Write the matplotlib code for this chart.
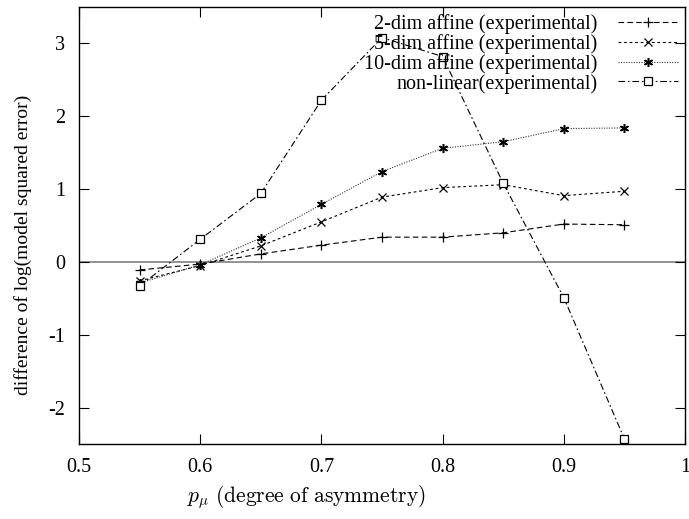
import numpy as np
import matplotlib
matplotlib.use("Agg")
import matplotlib.pyplot as plt

# asymmetry levels
p_mu = [0.55, 0.60, 0.65, 0.70, 0.75, 0.80, 0.85, 0.90, 0.95]

# difference of log(model squared error)
affine_2 = [-0.11, -0.03, 0.11, 0.23, 0.34, 0.34, 0.40, 0.52, 0.51]
affine_5 = [-0.26, -0.05, 0.22, 0.55, 0.89, 1.02, 1.06, 0.91, 0.97]
affine_10 = [-0.29, -0.04, 0.33, 0.79, 1.24, 1.56, 1.65, 1.83, 1.84]
nonlinear = [-0.33, 0.31, 0.94, 2.22, 3.08, 2.82, 1.08, -0.49, -2.43]

labels = ["2-dim affine (experimental)", "5-dim affine (experimental)",
          "10-dim affine (experimental)", "non-linear(experimental)"]
xticks = [0.5, 0.6, 0.7, 0.8, 0.9, 1.0]
xticklabels = ["0.5", "0.6", "0.7", "0.8", "0.9", "1"]
yticks = [-2, -1, 0, 1, 2, 3]
yticklabels = ["-2", "-1", "0", "1", "2", "3"]

plt.rcParams["font.family"] = ["Liberation Serif", "DejaVu Serif"]
plt.rcParams["mathtext.fontset"] = "cm"
plt.rcParams["axes.unicode_minus"] = False
plt.rcParams["font.size"] = 14

fig = plt.figure(figsize=[6.89, 5.19], dpi=100)
ax = fig.add_axes([79 / 689, 1 - 444 / 519, 606 / 689, 437 / 519])

ax.axhline(0, color="#808080", linewidth=1.2, zorder=1)

ax.plot(p_mu, affine_2, color="black", linewidth=0.8, linestyle=(0, (5, 3)),
        marker="+", markersize=7, markeredgewidth=0.9, label=labels[0])
ax.plot(p_mu, affine_5, color="black", linewidth=0.8, linestyle=(0, (2.5, 2.5)),
        marker="x", markersize=6, markeredgewidth=0.9, label=labels[1])
ax.plot(p_mu, affine_10, color="#333333", linewidth=0.8, linestyle=(0, (1, 1.3)),
        marker=(6, 2, 0), markersize=6.5, markeredgewidth=1.1,
        markeredgecolor="black", label=labels[2])
ax.plot(p_mu, nonlinear, color="black", linewidth=0.8, linestyle=(0, (6, 2.5, 1.5, 2.5)),
        marker="s", markersize=5.5, markerfacecolor="white", markeredgewidth=0.9,
        label=labels[3])

ax.set_xlim(0.5, 1.0)
ax.set_ylim(-2.5, 3.5)
ax.set_xticks(xticks)
ax.set_xticklabels(xticklabels)
ax.set_yticks(yticks)
ax.set_yticklabels(yticklabels)
ax.tick_params(direction="in", top=True, right=True, length=7, width=0.8,
               labelsize=14.5, pad=10)
for s in ax.spines.values():
    s.set_linewidth(1.0)

ax.set_xlabel(r"$p_\mu\ \mathrm{(degree\ of\ asymmetry)}$", fontsize=15.5)
ax.xaxis.set_label_coords(0.375, -0.09)
ax.set_ylabel("difference of log(model squared error)", fontsize=14)
ax.yaxis.set_label_coords(-0.078, 0.455)

leg = ax.legend(loc="upper right", frameon=False, markerfirst=False,
                handlelength=3.0, handletextpad=1.0, labelspacing=0.0,
                borderaxespad=0.05, borderpad=0.3, fontsize=14.5)

plt.savefig("out.png", dpi=100)
